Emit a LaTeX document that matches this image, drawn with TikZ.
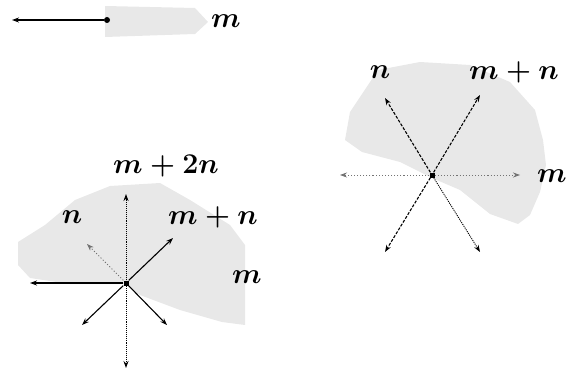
\documentclass[tikz,border=0pt]{standalone}
\usetikzlibrary{arrows.meta}
\begin{document}
\begin{tikzpicture}[x=1pt, y=-1pt,
  ray/.style={line width=1.1pt, -{Stealth[length=7pt, width=5pt]}},
  dray/.style={ray, dash pattern=on 3pt off 1.5pt},
  fray/.style={ray, densely dotted, line width=0.9pt},
  faint/.style={ray, dotted, black!55, line width=0.8pt},
  shade/.style={fill=black!9, draw=none},
  lbl/.style={font=\Huge\boldmath, scale=1.15},
  dot/.style={fill=black, inner sep=0pt, minimum size=5pt}]
\useasboundingbox (0,0) rectangle (572,374);
% top: one ray
\fill[shade] (105,6) -- (195,8) -- (208,22) -- (195,34) -- (105,37) -- cycle;
\node[dot, circle, minimum size=6pt] (c1) at (107,20) {};
\coordinate (t1) at (12,20);
\draw[ray] (c1) -- (t1);
\node[lbl] (m1) at (226,21) {$m$};
% bottom left: fan with m+2n
\fill[shade] (18,242) -- (45,225) -- (75,200) -- (110,186) -- (160,183)
  -- (190,200) -- (230,225) -- (245,245) -- (245,325) -- (222,322)
  -- (180,310) -- (140,295) -- (126,284) -- (70,284) -- (30,278)
  -- (18,265) -- cycle;
\node[dot] (c2) at (126,283) {};
\coordinate (l2) at (30,283);
\coordinate (u2) at (126,194);
\coordinate (ur2) at (173,238);
\coordinate (ul2) at (87,244);
\coordinate (dl2) at (82,325);
\coordinate (dr2) at (167,325);
\coordinate (d2) at (126,368);
\draw[ray] (c2) -- (l2);
\draw[fray] (c2) -- (u2);
\draw[ray] (c2) -- (ur2);
\draw[faint] (c2) -- (ul2);
\draw[ray] (c2) -- (dl2);
\draw[ray] (c2) -- (dr2);
\draw[fray] (c2) -- (d2);
\node[lbl] (n2) at (72,217) {$n$};
\node[lbl] (mn2) at (213,217) {$m+n$};
\node[lbl] (m2n2) at (166,166) {$m+2n$};
\node[lbl] (m2) at (247,277) {$m$};
% right: fan with m+n
\fill[shade] (345,140) -- (350,112) -- (378,70) -- (420,62) -- (470,65)
  -- (510,82) -- (535,110) -- (543,140) -- (546,165) -- (540,192)
  -- (530,215) -- (518,224) -- (490,214) -- (460,190) -- (432,178)
  -- (400,162) -- (362,152) -- cycle;
\node[dot] (c3) at (432,175) {};
\coordinate (l3) at (340,175);
\coordinate (r3) at (520,175);
\coordinate (ur3) at (480,95);
\coordinate (ul3) at (385,98);
\coordinate (dl3) at (385,252);
\coordinate (dr3) at (480,252);
\draw[faint] (c3) -- (l3);
\draw[faint] (c3) -- (r3);
\draw[dray] (c3) -- (ur3);
\draw[dray] (c3) -- (ul3);
\draw[dray] (c3) -- (dl3);
\draw[fray] (c3) -- (dr3);
\node[lbl] (n3) at (380,72) {$n$};
\node[lbl] (mn3) at (514,72) {$m+n$};
\node[lbl] (m3) at (552,176) {$m$};
\end{tikzpicture}
\end{document}
